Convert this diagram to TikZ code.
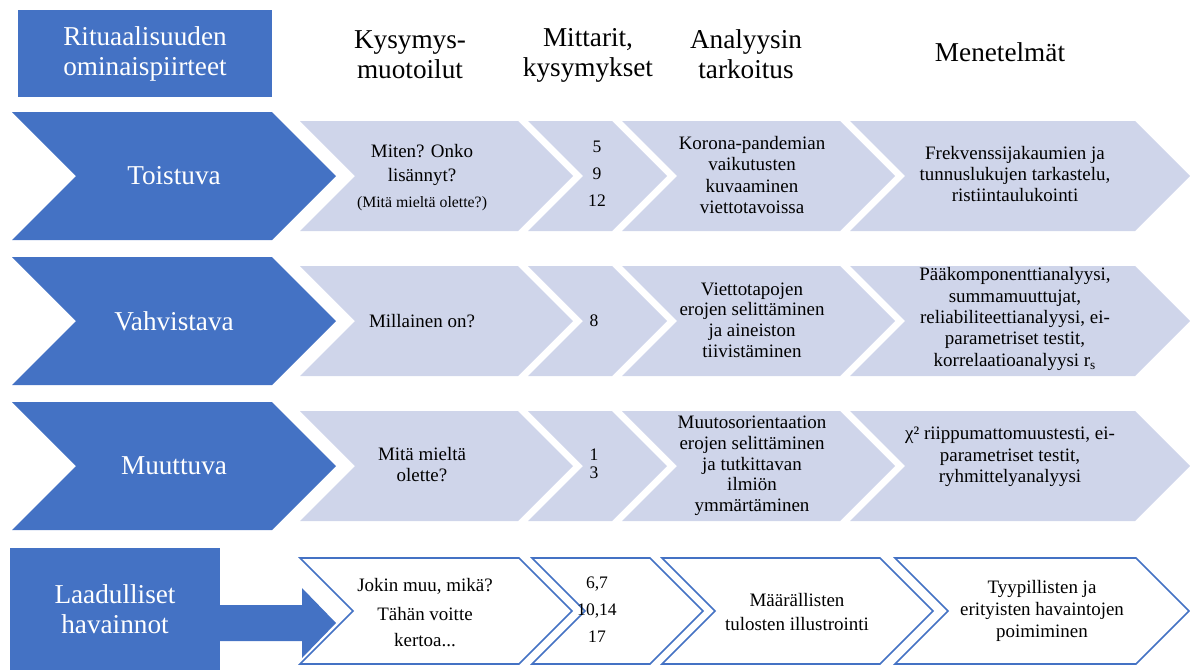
\documentclass[tikz,border=0pt]{standalone}
\usepackage{fontspec}
\setmainfont{Liberation Serif}
\definecolor{accblue}{HTML}{4472C4}
\definecolor{accpale}{HTML}{CFD5EA}
\tikzset{
    hdr/.style={font=\fontsize{15.5}{17}\selectfont, align=center, inner sep=0pt},
    lbl/.style={hdr, text=white},
    cell/.style={font=\fontsize{10.8}{#1}\selectfont, align=center, inner sep=0pt},
    cell/.default=12.2,
    num/.style={font=\fontsize{10}{#1}\selectfont, align=center, inner sep=0pt},
    num/.default=15.3,
    outl/.style={draw=accblue, line width=0.9pt, fill=white, line join=miter}
}

\begin{document}
\begin{tikzpicture}[x=0.02cm, y=-0.02cm]
        \useasboundingbox (0,0) rectangle (1190,670);

        \fill[accblue] (18,10) rectangle (272,97);
        \node[lbl] (feat) at (145,54) {Rituaalisuuden\\ominaispiirteet};
        \node[hdr] (qform) at (410,55) {Kysymys-\\muotoilut};
        \node[hdr] (meas) at (588,55) {Mittarit,\\kysymykset};
        \node[hdr] (aim) at (746,54) {Analyysin\\tarkoitus};
        \node[hdr] (meth) at (1000,52) {Menetelmät};

        \foreach \t/\m/\b in {112/176/240, 257/321/385, 402/466/530} {
            \fill[accblue] (12,\t) -- (272,\t) -- (336,\m) -- (272,\b) -- (12,\b) -- (76,\m) -- cycle;
            \foreach \l/\r in {300/518, 528/612, 622/840, 850/1135}
                \fill[accpale] (\l,\t+9) -- (\r,\t+9) -- (\r+55,\m) -- (\r,\b-9) -- (\l,\b-9) -- (\l+55,\m) -- cycle;
        }

        \node[lbl] (rep) at (174,176) {Toistuva};
        \node[cell=14] (repq) at (422,165) {Miten? Onko\\lisännyt?};
        \node[font=\fontsize{9}{11}\selectfont, inner sep=0pt] (repq2) at (422,204) {(Mitä mieltä olette?)};
        \node[num] (repn) at (597,174) {5\\9\\12};
        \node[cell=12] (repa) at (752,175) {Korona-pandemian\\vaikutusten\\kuvaaminen\\viettotavoissa};
        \node[cell] (repm) at (1015,174) {Frekvenssijakaumien ja\\tunnuslukujen tarkastelu,\\ristiintaulukointi};

        \node[lbl] (conf) at (174,321) {Vahvistava};
        \node[cell] (confq) at (422,321) {Millainen on?};
        \node[num] (confn) at (594,321) {8};
        \node[cell=11.8] (confa) at (752,320) {Viettotapojen\\erojen selittäminen\\ja aineiston\\tiivistäminen};
        \node[cell] (confm) at (1015,319) {Pääkomponenttianalyysi,\\summamuuttujat,\\reliabiliteettianalyysi, ei-\\parametriset testit,\\korrelaatioanalyysi r\textsubscript{s}};

        \node[lbl] (chg) at (174,466) {Muuttuva};
        \node[cell=12] (chgq) at (422,465) {Mitä mieltä\\olette?};
        \node[num=10.4] (chgn) at (594,464) {1\\3};
        \node[cell=11.8] (chga) at (752,466) {Muutosorientaation\\erojen selittäminen\\ja tutkittavan\\ilmiön\\ymmärtäminen};
        \node[cell] (chgm) at (1010,457) {χ² riippumattomuustesti, ei-\\parametriset testit,\\ryhmittelyanalyysi};

        \foreach \l/\r in {300/519, 532/650, 662/880, 895/1136}
            \draw[outl] (\l,558) -- (\r,558) -- (\r+53,611) -- (\r,664) -- (\l,664) -- (\l+53,611) -- cycle;

        \node[lbl, fill=accblue, minimum width=4.2cm, minimum height=2.44cm] (qual) at (115,609) {Laadulliset\\havainnot};
        \fill[accblue] (220,605) -- (302,605) -- (302,588) -- (336,623) -- (302,658) -- (302,641) -- (220,641) -- cycle;

        \node[cell] (qualq) at (425,586) {Jokin muu, mikä?};
        \node[cell=14.7] (qualq2) at (425,627) {Tähän voitte\\kertoa...};
        \node[num] (qualn) at (597,610) {6,7\\10,14\\17};
        \node[cell=13.6] (quala) at (797,612) {Määrällisten\\tulosten illustrointi};
        \node[cell=12.5] (qualm) at (1042,611) {Tyypillisten ja\\erityisten havaintojen\\poimiminen};
    \end{tikzpicture}
\end{document}
